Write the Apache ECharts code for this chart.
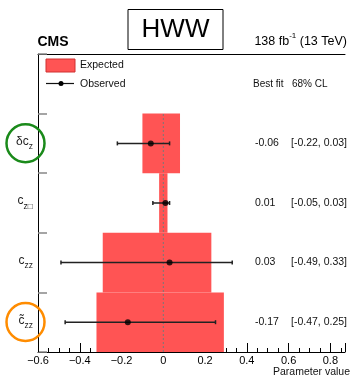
<!DOCTYPE html>
<html>
<head>
<meta charset="utf-8">
<script src="https://cdn.jsdelivr.net/npm/echarts@6/dist/echarts.min.js"></script>
<style>
  html, body { margin: 0; padding: 0; background: #fff; }
  #chart { width: 351px; height: 380px; }
</style>
</head>
<body>
<div id="chart"></div>
<script>
// Coupling parameters, listed bottom row first
const paramBase = ['c\u0303', 'c', 'c', '\u03b4c'];
const paramSub = ['zz', 'zz', 'z\u25a1', 'z'];

// Observed best fit and 68% CL interval
const bestFit = [-0.17, 0.03, 0.01, -0.06];
const obsLow = [-0.47, -0.49, -0.05, -0.22];
const obsHigh = [0.25, 0.33, 0.03, 0.03];

// Expected 68% CL band
const expLow = [-0.32, -0.29, -0.02, -0.10];
const expHigh = [0.29, 0.23, 0.02, 0.08];

// Horizontal axis range and tick step
const xMin = -0.6, xMax = 0.87, xStep = 0.2;

const FONT = 'Liberation Sans, Arial, Helvetica, sans-serif';
const nRows = paramBase.length + 1; // extra top row holds the legend

const chart = echarts.init(document.getElementById('chart'), null, { renderer: 'canvas' });

const fmtTick = v => {
  if (Math.abs(v) < 1e-9) return '0';
  return (v < 0 ? '\u2212' : '') + Math.abs(v).toFixed(1);
};
const fmt2 = v => v.toFixed(2);

const rowLabels = paramBase.map((b, i) => '{m|' + b + '}{s|' + paramSub[i] + '}').concat(['']);

const expData = expLow.map((lo, i) => [i, lo, expHigh[i]]);
const obsData = obsLow.map((lo, i) => [i, lo, obsHigh[i], bestFit[i]]);
const pointData = bestFit.map((v, i) => [v, i + 0.5]);

chart.setOption({
  animation: false,
  grid: { left: 38, right: 6, top: 54, bottom: 28, containLabel: false },
  xAxis: [{
    type: 'value', min: xMin, max: xMax, interval: xStep,
    axisLine: { show: true, onZero: false, lineStyle: { color: '#000', width: 1 } },
    axisTick: { show: true, inside: true, length: 9, lineStyle: { color: '#000' } },
    minorTick: { show: true, splitNumber: 4, length: 4, lineStyle: { color: '#000' } },
    axisLabel: { formatter: fmtTick, fontFamily: FONT, fontSize: 11, color: '#000', margin: 3, showMaxLabel: false },
    splitLine: { show: false }
  }, {
    type: 'value', position: 'top', min: xMin, max: xMax,
    axisLine: { show: true, onZero: false, lineStyle: { color: '#000', width: 1 } },
    axisTick: { show: false }, axisLabel: { show: false }, splitLine: { show: false }
  }],
  yAxis: [{
    type: 'value', min: 0, max: nRows, interval: 1,
    axisLine: { show: true, onZero: false, lineStyle: { color: '#000', width: 1 } },
    axisTick: { show: true, inside: true, length: 9, lineStyle: { color: '#888', width: 1.5 } },
    axisLabel: { show: false }, splitLine: { show: false }
  }, {
    type: 'category', position: 'left', data: rowLabels, boundaryGap: true,
    axisLine: { show: false, onZero: false }, axisTick: { show: false }, splitLine: { show: false },
    axisLabel: {
      margin: 5, color: '#222', fontFamily: FONT,
      formatter: v => v,
      rich: {
        m: { fontSize: 12, fontFamily: FONT, color: '#222', lineHeight: 16, verticalAlign: 'top' },
        s: { fontSize: 8.5, fontFamily: FONT, color: '#222', lineHeight: 16, verticalAlign: 'bottom' }
      }
    }
  }],
  series: [{
    // expected bands
    type: 'custom', xAxisIndex: 0, yAxisIndex: 0, data: expData, z: 1,
    renderItem: (params, api) => {
      const i = api.value(0);
      const a = api.coord([api.value(1), i + 1]);
      const b = api.coord([api.value(2), i]);
      return { type: 'rect', shape: { x: a[0], y: a[1], width: b[0] - a[0], height: b[1] - a[1] },
        style: { fill: '#ff5454' } };
    }
  }, {
    // zero reference line
    type: 'custom', xAxisIndex: 0, yAxisIndex: 0, data: [[0]], z: 2,
    renderItem: (params, api) => {
      const a = api.coord([0, 0]);
      const b = api.coord([0, nRows - 1]);
      return { type: 'line', shape: { x1: a[0], y1: a[1], x2: b[0], y2: b[1] },
        style: { stroke: '#777', lineWidth: 1, lineDash: [2, 2] } };
    }
  }, {
    // observed intervals with end caps
    type: 'custom', xAxisIndex: 0, yAxisIndex: 0, data: obsData, z: 3,
    renderItem: (params, api) => {
      const y = api.value(0) + 0.5;
      const a = api.coord([api.value(1), y]);
      const b = api.coord([api.value(2), y]);
      const st = { stroke: '#222', lineWidth: 1.5 };
      return { type: 'group', children: [
        { type: 'line', shape: { x1: a[0], y1: a[1], x2: b[0], y2: b[1] }, style: st },
        { type: 'line', shape: { x1: a[0], y1: a[1] - 2, x2: a[0], y2: a[1] + 2 }, style: st },
        { type: 'line', shape: { x1: b[0], y1: b[1] - 2, x2: b[0], y2: b[1] + 2 }, style: st }
      ] };
    }
  }, {
    type: 'scatter', xAxisIndex: 0, yAxisIndex: 0, data: pointData, z: 4,
    symbol: 'circle', symbolSize: 6, itemStyle: { color: '#000' }
  }, {
    // best-fit values and intervals on the right
    type: 'custom', xAxisIndex: 0, yAxisIndex: 0, data: obsData, z: 5,
    renderItem: (params, api) => {
      const y = api.coord([0, api.value(0) + 0.5])[1];
      const ts = { fontSize: 10.5, fontFamily: FONT, fill: '#111', textVerticalAlign: 'middle', textAlign: 'left' };
      return { type: 'group', children: [
        { type: 'text', style: Object.assign({ x: 255, y: y, text: fmt2(api.value(3)) }, ts) },
        { type: 'text', style: Object.assign({ x: 291, y: y,
          text: '[' + fmt2(api.value(1)) + ', ' + fmt2(api.value(2)) + ']' }, ts) }
      ] };
    }
  }],
  graphic: [
    { type: 'rect', shape: { x: 128, y: 9.5, width: 95, height: 40 },
      style: { fill: '#fff', stroke: '#000', lineWidth: 1 } },
    { type: 'text', style: { x: 175.5, y: 30, text: 'HWW', fontSize: 26, fontFamily: FONT,
      fill: '#000', textAlign: 'center', textVerticalAlign: 'middle' } },
    { type: 'text', style: { x: 37.5, y: 42, text: 'CMS', fontSize: 14, fontWeight: 'bold', fontFamily: FONT,
      fill: '#000', textAlign: 'left', textVerticalAlign: 'middle' } },
    { type: 'text', style: { x: 347, y: 40, textAlign: 'right', textVerticalAlign: 'middle',
      text: '{n|138 fb}{p|-1}{n| (13 TeV)}',
      rich: {
        n: { fontSize: 12.5, fontFamily: FONT, fill: '#000', lineHeight: 16, verticalAlign: 'bottom' },
        p: { fontSize: 8, fontFamily: FONT, fill: '#000', lineHeight: 16, verticalAlign: 'top' }
      } } },
    // legend
    { type: 'rect', shape: { x: 46, y: 59, width: 29, height: 13 },
      style: { fill: '#ff5454', stroke: '#d03030', lineWidth: 1 } },
    { type: 'text', style: { x: 80, y: 65.5, text: 'Expected', fontSize: 10.5, fontFamily: FONT,
      fill: '#111', textVerticalAlign: 'middle' } },
    { type: 'line', shape: { x1: 46, y1: 83.5, x2: 74, y2: 83.5 }, style: { stroke: '#111', lineWidth: 1.2 } },
    { type: 'circle', shape: { cx: 61, cy: 83.5, r: 2.5 }, style: { fill: '#000' } },
    { type: 'text', style: { x: 80, y: 84, text: 'Observed', fontSize: 10.5, fontFamily: FONT,
      fill: '#111', textVerticalAlign: 'middle' } },
    { type: 'text', style: { x: 253, y: 84, text: 'Best fit', fontSize: 10, fontFamily: FONT,
      fill: '#111', textVerticalAlign: 'middle' } },
    { type: 'text', style: { x: 292, y: 84, text: '68% CL', fontSize: 10, fontFamily: FONT,
      fill: '#111', textVerticalAlign: 'middle' } },
    { type: 'text', style: { x: 350, y: 372, text: 'Parameter value', fontSize: 10.5, fontFamily: FONT,
      fill: '#111', textAlign: 'right', textVerticalAlign: 'middle' } },
    // highlight rings
    { type: 'circle', shape: { cx: 25.5, cy: 143.3, r: 19 },
      style: { fill: 'none', stroke: '#1a8a1a', lineWidth: 2.5 }, z: 10 },
    { type: 'circle', shape: { cx: 25.5, cy: 322, r: 19 },
      style: { fill: 'none', stroke: '#ff8c00', lineWidth: 2.5 }, z: 10 }
  ]
});
</script>
</body>
</html>
